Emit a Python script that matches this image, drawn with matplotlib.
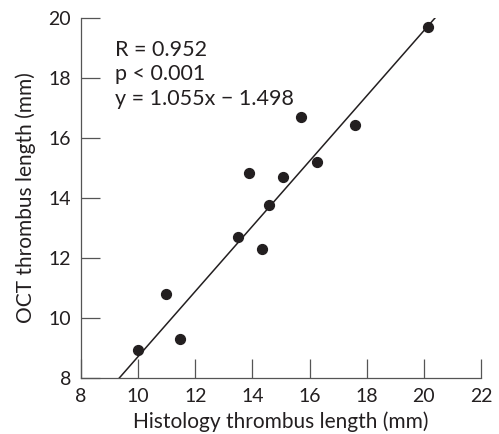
import matplotlib.pyplot as plt
import numpy as np

# histology vs OCT thrombus length (mm)
histology = [10.0, 10.96, 11.48, 13.48, 14.35, 14.58, 13.88, 15.08, 15.69, 16.25, 17.58, 20.13]
oct_len = [8.93, 10.8, 9.31, 12.71, 12.29, 13.78, 14.83, 14.71, 16.69, 15.2, 16.42, 19.69]

# regression line as drawn
line_x = [9.34, 20.39]
line_y = [8.0, 20.0]

x_ticks = [8, 10, 12, 14, 16, 18, 20, 22]
y_ticks = [8, 10, 12, 14, 16, 18, 20]

plt.rcParams['font.family'] = ['Lato', 'DejaVu Sans']
color = '#231f20'

fig = plt.figure(figsize=(4.99, 4.34), dpi=100)
ax = fig.add_axes([0.1623, 0.129, 0.8016, 0.8295])

ax.plot(line_x, line_y, color=color, lw=1.1)
ax.scatter(histology, oct_len, s=50, color=color, zorder=3)

ax.set_xlim(8, 22)
ax.set_ylim(8, 20)
ax.set_xticks(x_ticks)
ax.set_yticks(y_ticks)
ax.tick_params(direction='in', length=14, width=0.9, color='#555555',
               labelsize=14, labelcolor=color, pad=7)

for s in ['top', 'right']:
    ax.spines[s].set_visible(False)
for s in ['left', 'bottom']:
    ax.spines[s].set_color('#555555')
    ax.spines[s].set_linewidth(0.9)

ax.set_xlabel('Histology thrombus length (mm)', fontsize=15, color=color, labelpad=5)
ax.set_ylabel('OCT thrombus length (mm)', fontsize=15, color=color, labelpad=9)

ax.text(0.085, 0.94, 'R = 0.952\np < 0.001\ny = 1.055x − 1.498',
        transform=ax.transAxes, fontsize=15.5, color=color, va='top',
        linespacing=1.3)

fig.savefig('out.png', dpi=100)
